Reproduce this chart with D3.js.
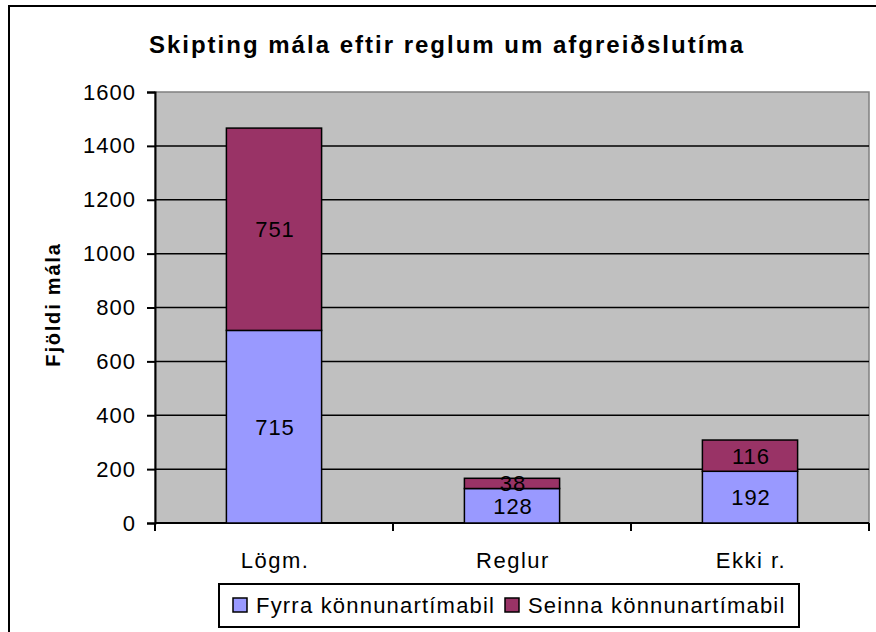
<!DOCTYPE html>
<html>
  <head>
    <meta charset="UTF-8">
    <title>Skipting mála</title>
    <script src="https://cdn.jsdelivr.net/npm/d3@7"></script>
    <style>
      body { margin: 0; background: #fff; }
      text { font-family: "Liberation Sans", Arial, sans-serif; }
    </style>
  </head>
  <body>
    <svg width="876" height="632"></svg>
    <script>
      var categories = ["Lögm.", "Reglur", "Ekki r."];
      var fyrra = [715, 128, 192];
      var seinna = [751, 38, 116];
      var seriesNames = ["Fyrra könnunartímabil", "Seinna könnunartímabil"];
      var yTicks = [0, 200, 400, 600, 800, 1000, 1200, 1400, 1600];

      var colors = ["#9999ff", "#993366"];
      var svg = d3.select("svg");

      // outer chart border (runs off the right and bottom edges)
      svg.append("rect")
        .attr("x", 9).attr("y", 6)
        .attr("width", 900).attr("height", 700)
        .attr("fill", "#fff").attr("stroke", "#000").attr("stroke-width", 2);

      var plot = {left: 155, top: 92, right: 869, bottom: 523};

      var x = d3.scaleBand()
        .domain(categories)
        .range([plot.left, plot.right]);
      var y = d3.scaleLinear()
        .domain([0, 1600])
        .range([plot.bottom, plot.top]);

      // plot area
      svg.append("rect")
        .attr("x", plot.left).attr("y", plot.top)
        .attr("width", plot.right - plot.left).attr("height", plot.bottom - plot.top)
        .attr("fill", "#c0c0c0").attr("stroke", "#808080").attr("stroke-width", 1.5);

      // gridlines
      svg.append("g").selectAll("line")
        .data(yTicks.filter(function(d){ return d > 0 && d < 1600; }))
        .enter().append("line")
        .attr("x1", plot.left).attr("x2", plot.right)
        .attr("y1", function(d){ return y(d); })
        .attr("y2", function(d){ return y(d); })
        .attr("stroke", "#000").attr("stroke-width", 1.5);

      // y axis
      var yAxis = d3.axisLeft(y).tickValues(yTicks).tickFormat(d3.format("d"))
        .tickSize(8).tickPadding(11);
      var gy = svg.append("g")
        .attr("transform", "translate(" + plot.left + ",0)")
        .call(yAxis);
      gy.select(".domain").attr("stroke", "#000").attr("stroke-width", 2);
      gy.selectAll(".tick line").attr("stroke", "#000").attr("stroke-width", 2);
      gy.selectAll(".tick text")
        .attr("font-size", 22).attr("fill", "#000")
        .style("font-family", "'Liberation Sans', Arial, sans-serif")
        .style("letter-spacing", "1px");

      // x axis (ticks between categories)
      var bounds = categories.map(function(c){ return x(c); }).concat([plot.right]);
      svg.append("line")
        .attr("x1", plot.left).attr("x2", plot.right)
        .attr("y1", plot.bottom).attr("y2", plot.bottom)
        .attr("stroke", "#000").attr("stroke-width", 2);
      svg.append("g").selectAll("line")
        .data(bounds)
        .enter().append("line")
        .attr("x1", function(d){ return d; }).attr("x2", function(d){ return d; })
        .attr("y1", plot.bottom).attr("y2", plot.bottom + 8)
        .attr("stroke", "#000").attr("stroke-width", 2);
      svg.append("g").selectAll("text")
        .data(categories)
        .enter().append("text")
        .attr("x", function(d){ return x(d) + x.bandwidth() / 2 + 1; })
        .attr("y", 568)
        .attr("text-anchor", "middle")
        .attr("font-size", 22)
        .style("letter-spacing", "1.5px")
        .text(function(d){ return d; });

      // stacked bars
      var rows = categories.map(function(c, i){
        return {cat: c, fyrra: fyrra[i], seinna: seinna[i]};
      });
      var stack = d3.stack().keys(["fyrra", "seinna"])(rows);
      var barW = x.bandwidth() * 0.4;

      var layers = svg.append("g").selectAll("g")
        .data(stack)
        .enter().append("g")
        .attr("fill", function(d, i){ return colors[i]; });

      layers.selectAll("rect")
        .data(function(d){ return d; })
        .enter().append("rect")
        .attr("x", function(d){ return x(d.data.cat) + (x.bandwidth() - barW) / 2; })
        .attr("y", function(d){ return y(d[1]); })
        .attr("width", barW)
        .attr("height", function(d){ return y(d[0]) - y(d[1]); })
        .attr("stroke", "#000").attr("stroke-width", 1.5);

      layers.selectAll("text")
        .data(function(d){ return d; })
        .enter().append("text")
        .attr("x", function(d){ return x(d.data.cat) + x.bandwidth() / 2 + 1; })
        .attr("y", function(d){ return (y(d[0]) + y(d[1])) / 2; })
        .attr("dy", "0.36em")
        .attr("text-anchor", "middle")
        .attr("font-size", 22)
        .attr("fill", "#000")
        .style("letter-spacing", "1px")
        .text(function(d){ return d[1] - d[0]; });

      // title
      svg.append("text")
        .attr("x", 447).attr("y", 53)
        .attr("text-anchor", "middle")
        .attr("font-size", 24).attr("font-weight", "bold")
        .style("letter-spacing", "2px")
        .text("Skipting mála eftir reglum um afgreiðslutíma");

      // y axis title
      svg.append("text")
        .attr("transform", "translate(60," + ((plot.top + plot.bottom) / 2 - 3) + ") rotate(-90)")
        .attr("text-anchor", "middle")
        .attr("font-size", 20).attr("font-weight", "bold")
        .style("letter-spacing", "1.8px")
        .text("Fjöldi mála");

      // legend
      var legend = svg.append("g");
      legend.append("rect")
        .attr("x", 219).attr("y", 584)
        .attr("width", 580).attr("height", 43)
        .attr("fill", "#fff").attr("stroke", "#000").attr("stroke-width", 2);
      var lx = [233, 505];
      seriesNames.forEach(function(name, i){
        legend.append("rect")
          .attr("x", lx[i]).attr("y", 598)
          .attr("width", 14).attr("height", 14)
          .attr("fill", colors[i]).attr("stroke", "#000").attr("stroke-width", 1.5);
        legend.append("text")
          .attr("x", lx[i] + 23).attr("y", 613)
          .attr("font-size", 22)
          .style("letter-spacing", "1.2px")
          .text(name);
      });
    </script>
  </body>
</html>
